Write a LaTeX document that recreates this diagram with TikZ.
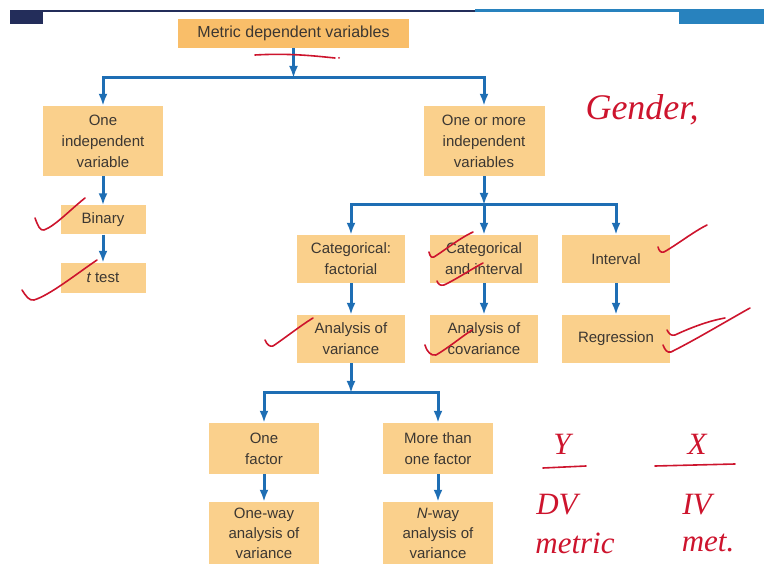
\documentclass[tikz,border=0pt]{standalone}
\usepackage{fontspec}
\setmainfont{Liberation Sans}
\newfontfamily\handfont{Liberation Serif}
\usepackage{tikz}
\usetikzlibrary{shapes,arrows,arrows.meta}
\usetikzlibrary{calc}
\usetikzlibrary{positioning}
\definecolor{boxfill}{RGB}{250,208,140}
\definecolor{topfill}{RGB}{249,190,105}
\definecolor{flowblue}{RGB}{30,110,180}
\definecolor{textgray}{RGB}{60,55,50}
\definecolor{inkred}{RGB}{205,20,45}
\definecolor{barnavy}{RGB}{35,45,90}
\definecolor{barblue}{RGB}{40,130,190}
\tikzstyle{block} = [fill=boxfill, rectangle, text=textgray, align=center,
    inner sep=0pt, font=\fontsize{15}{21}\selectfont]
\tikzstyle{junction} = [coordinate]
\tikzstyle{link} = [draw=flowblue, line width=3pt]
\tikzstyle{pen} = [draw=inkred, line width=1.6pt, line cap=round, line join=round]
\tikzstyle{scribble} = [text=inkred, inner sep=0pt,
    font=\handfont\itshape\fontsize{31}{31}\selectfont]

\begin{document}
\begin{tikzpicture}[x=1pt,y=-1pt,>={Latex[length=12pt,width=9pt]}]
    \useasboundingbox (0,0) rectangle (764,564);
    \clip (0,0) rectangle (764,564);
    \fill[barnavy] (10,10) rectangle (43,24);
    \fill[barnavy] (43,10) rectangle (475,12);
    \fill[barblue] (475,9) rectangle (764,12);
    \fill[barblue] (679,9) rectangle (764,24);

    \node [block, fill=topfill, minimum width=231pt, minimum height=29pt,
        font=\fontsize{16}{21}\selectfont] (metric) at (293.5,33.5) {Metric dependent variables};
    \node [block, minimum width=120pt, minimum height=70pt] (one) at (103,141) {One\\independent\\variable};
    \node [block, minimum width=121pt, minimum height=70pt] (more) at (484,141) {One or more\\independent\\variables};
    \node [block, below of=one, node distance=79pt, minimum width=85pt, minimum height=29pt] (binary) {Binary};
    \node [block, below of=binary, node distance=58pt, minimum width=85pt, minimum height=30pt] (ttest) {{\itshape t} test};

    \node [block, below of=more, node distance=118pt, minimum width=108pt, minimum height=48pt] (catint) {Categorical\\and interval};
    \node [block, left of=catint, node distance=133pt, minimum width=108pt, minimum height=48pt] (catfac) {Categorical:\\factorial};
    \node [block, right of=catint, node distance=132pt, minimum width=108pt, minimum height=48pt] (interval) {Interval};
    \node [block, below of=catfac, node distance=80pt, minimum width=108pt, minimum height=48pt] (anova) {Analysis of\\variance};
    \node [block, below of=catint, node distance=80pt, minimum width=108pt, minimum height=48pt] (ancova) {Analysis of\\covariance};
    \node [block, below of=interval, node distance=80pt, minimum width=108pt, minimum height=48pt] (regr) {Regression};

    \node [block, minimum width=110pt, minimum height=51pt] (onefac) at (264,448.5) {One\\factor};
    \node [block, minimum width=110pt, minimum height=51pt] (morefac) at (438,448.5) {More than\\one factor};
    \node [block, below of=onefac, node distance=84.5pt, minimum width=110pt, minimum height=62pt,
        font=\fontsize{15}{20}\selectfont] (oneway) {One-way\\analysis of\\variance};
    \node [block, below of=morefac, node distance=84.5pt, minimum width=110pt, minimum height=62pt,
        font=\fontsize{15}{20}\selectfont] (nway) {{\itshape N}-way\\analysis of\\variance};

    \node [junction, name=j1] at (293.5,78) {};
    \node [junction, name=j2] at (484,205) {};
    \node [junction, name=j3] at (351,393) {};

    \draw [link,->] (metric) -- (j1);
    \draw [link,->] (j1) -| (one);
    \draw [link,->] (j1) -| (more);
    \draw [link,->] (one) -- (binary);
    \draw [link,->] (binary) -- (ttest);
    \draw [link,->] (more) -- (j2);
    \draw [link,->] (j2) -| (catfac);
    \draw [link,->] (j2) -- (catint);
    \draw [link,->] (j2) -| (interval);
    \draw [link,->] (catfac) -- (anova);
    \draw [link,->] (catint) -- (ancova);
    \draw [link,->] (interval) -- (regr);
    \draw [link,->] (anova) -- (j3);
    \draw [link,->] (j3) -| (onefac);
    \draw [link,->] (j3) -| (morefac);
    \draw [link,->] (onefac) -- (oneway);
    \draw [link,->] (morefac) -- (nway);

    \draw [pen] (255,55) .. controls (290,53) and (315,56) .. (335,58);
    \fill [inkred] (339,58) circle (1pt);
    \draw [pen] (35,218) .. controls (38,226) and (40,231) .. (44,230) .. controls (55,226) and (70,210) .. (85,198);
    \draw [pen] (22,290) .. controls (26,296) and (29,301) .. (34,300) .. controls (50,295) and (75,275) .. (97,260);
    \draw [pen] (429,252) .. controls (430,256) and (431,258) .. (434,257) .. controls (445,250) and (460,238) .. (473,232);
    \draw [pen] (437,281) .. controls (438,284) and (440,286) .. (444,285) .. controls (455,280) and (470,270) .. (483,263);
    \draw [pen] (658,247) .. controls (659,251) and (661,253) .. (664,252) .. controls (678,244) and (693,232) .. (707,225);
    \draw [pen] (265,340) .. controls (267,345) and (270,347) .. (273,346) .. controls (285,338) and (300,326) .. (313,318);
    \draw [pen] (425,345) .. controls (427,352) and (431,356) .. (436,355) .. controls (448,348) and (460,338) .. (472,330);
    \draw [pen] (667,330) .. controls (669,334) and (671,336) .. (675,335) .. controls (690,328) and (708,321) .. (725,318);
    \draw [pen] (663,345) .. controls (665,350) and (667,353) .. (671,352) .. controls (695,340) and (725,322) .. (750,308);

    \node [scribble, font=\handfont\itshape\fontsize{36}{36}\selectfont] (gender) at (642,110) {Gender,};
    \node [scribble] (ylabel) at (562,444) {Y};
    \node [scribble] (xlabel) at (697,444) {X};
    \draw [pen] (543,468) -- (586,466);
    \draw [pen] (655,466) -- (735,464);
    \node [scribble] (dv) at (557,505) {DV};
    \node [scribble] (iv) at (697,505) {IV};
    \node [scribble] (dvmetric) at (575,543) {metric};
    \node [scribble] (ivmetric) at (708,543) {met.};
\end{tikzpicture}
\end{document}
